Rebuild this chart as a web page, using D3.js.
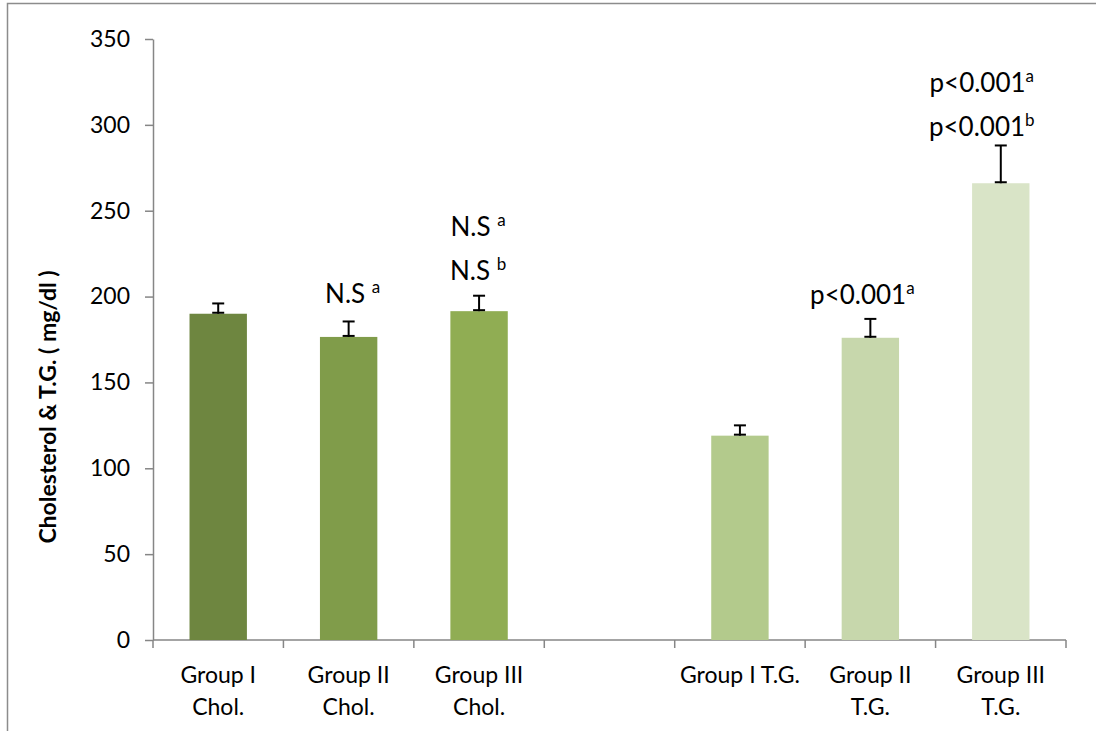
<!DOCTYPE html>
<html>
<head>
<meta charset="utf-8">
<script src="https://cdn.jsdelivr.net/npm/d3@7"></script>
<style>
  html, body { margin: 0; padding: 0; background: #fff; }
  svg { display: block; font-family: Lato, "Open Sans", "DejaVu Sans", sans-serif; }
</style>
</head>
<body>
<svg id="chart" width="1096" height="731"></svg>
<script>
// Categories along the x axis (an empty slot separates the two measures)
const categories = ["G1C", "G2C", "G3C", "gap", "G1T", "G2T", "G3T"];
const categoryLabels = [
  ["Group I", "Chol."],
  ["Group II", "Chol."],
  ["Group III", "Chol."],
  [],
  ["Group I T.G."],
  ["Group II", "T.G."],
  ["Group III", "T.G."]
];
// Mean values (mg/dl) and upper error
const values = [190, 176.5, 191.5, null, 119, 176, 266];
const errors = [6, 9, 9, null, 6, 11, 22];
const barColors = ["#6e8640", "#809c4a", "#90ad53", null, "#b3ca8c", "#c7d7ac", "#d9e4c7"];
// Significance annotations: [main text, superscript] lines, listed top to bottom
const annotations = [
  [],
  [["N.S ", "a"]],
  [["N.S ", "a"], ["N.S ", "b"]],
  [],
  [],
  [["p<0.001", "a"]],
  [["p<0.001", "a"], ["p<0.001", "b"]]
];
const yTicks = [0, 50, 100, 150, 200, 250, 300, 350];
const yTitle = "Cholesterol & T.G. ( mg/dl )";

// nudges of each annotation block relative to its error bar top
const annShift = [0, 4, -1, 0, 0, -8, -19];
const annLift = [0, 3, 1, 0, 0, 0, -6];

const svg = d3.select("#chart");
const margin = { left: 153, right: 30, top: 39, bottom: 91 };
const W = 1096, H = 731;
const x0 = margin.left, x1 = W - margin.right;
const y0 = H - margin.bottom, y1 = margin.top;
const FONT = "Lato, 'Open Sans', sans-serif";

// outer frame
svg.append("rect")
  .attr("x", 7.5).attr("y", 3.5)
  .attr("width", W - 5).attr("height", H)
  .attr("fill", "none").attr("stroke", "#8c8c8c").attr("stroke-width", 1.5);

const x = d3.scaleBand().domain(categories).range([x0, x1]).paddingInner(0.56).paddingOuter(0.28);
const y = d3.scaleLinear().domain([0, 350]).range([y0, y1]);

// y axis
const yAxis = svg.append("g")
  .attr("transform", `translate(${x0},0)`)
  .call(d3.axisLeft(y).tickValues(yTicks).tickSize(8).tickPadding(15).tickSizeOuter(0));
yAxis.attr("font-size", null).attr("font-family", null);
yAxis.select(".domain").attr("stroke", "#868686").attr("stroke-width", 1.5);
yAxis.selectAll(".tick line").attr("stroke", "#868686").attr("stroke-width", 1.5);
yAxis.selectAll(".tick text")
  .style("font-size", "23px").style("font-family", FONT).attr("fill", "#000");

// x axis line with ticks at slot boundaries
const nSlots = categories.length;
svg.append("line")
  .attr("x1", x0).attr("x2", x1)
  .attr("y1", y0).attr("y2", y0)
  .attr("stroke", "#868686").attr("stroke-width", 1.5);
const bounds = d3.range(nSlots + 1).map(i => x0 + (x1 - x0) * i / nSlots);
svg.selectAll(".xtick").data(bounds).join("line")
  .attr("class", "xtick")
  .attr("x1", d => d).attr("x2", d => d)
  .attr("y1", y0).attr("y2", y0 + 8)
  .attr("stroke", "#868686").attr("stroke-width", 1.5);

// bars
const data = categories.map((c, i) => ({ c, i, v: values[i], e: errors[i], color: barColors[i], ann: annotations[i], lab: categoryLabels[i] }));
const real = data.filter(d => d.v != null);

svg.selectAll(".bar").data(real).join("rect")
  .attr("class", "bar")
  .attr("x", d => x(d.c))
  .attr("width", x.bandwidth())
  .attr("y", d => y(d.v))
  .attr("height", d => y(0) - y(d.v))
  .attr("fill", d => d.color);

// error bars (upper)
const cap = 6;
const eb = svg.selectAll(".err").data(real).join("g").attr("class", "err")
  .attr("stroke", "#000").attr("stroke-width", 2);
eb.append("line")
  .attr("x1", d => x(d.c) + x.bandwidth() / 2).attr("x2", d => x(d.c) + x.bandwidth() / 2)
  .attr("y1", d => y(d.v)).attr("y2", d => y(d.v + d.e));
eb.append("line")
  .attr("x1", d => x(d.c) + x.bandwidth() / 2 - cap).attr("x2", d => x(d.c) + x.bandwidth() / 2 + cap)
  .attr("y1", d => y(d.v + d.e)).attr("y2", d => y(d.v + d.e));
eb.append("line")
  .attr("x1", d => x(d.c) + x.bandwidth() / 2 - cap).attr("x2", d => x(d.c) + x.bandwidth() / 2 + cap)
  .attr("y1", d => y(d.v) - 1).attr("y2", d => y(d.v) - 1);

// significance annotations stacked above each error bar
const lineGap = 44;
real.forEach(d => {
  const n = d.ann.length;
  const cx = x(d.c) + x.bandwidth() / 2 + annShift[d.i];
  const base = y(d.v + d.e) - 15 - annLift[d.i];
  d.ann.forEach((a, j) => {
    const yy = base - (n - 1 - j) * lineGap;
    const t = svg.append("text")
      .attr("x", cx).attr("y", yy)
      .attr("text-anchor", "middle")
      .style("font-size", "26px").attr("fill", "#000");
    t.append("tspan").text(a[0]);
    t.append("tspan").style("font-size", "17px").attr("dy", -10).text(a[1]);
  });
});

// category labels
data.forEach(d => {
  const cx = x(d.c) + x.bandwidth() / 2;
  d.lab.forEach((s, j) => {
    svg.append("text")
      .attr("x", cx).attr("y", y0 + 43 + j * 32)
      .attr("text-anchor", "middle")
      .style("font-size", "23px").attr("fill", "#000")
      .text(s);
  });
});

// y axis title
svg.append("text")
  .attr("transform", `translate(56,407) rotate(-90)`)
  .attr("text-anchor", "middle")
  .style("font-size", "23px").attr("font-weight", "bold").attr("fill", "#000")
  .text(yTitle);
</script>
</body>
</html>
